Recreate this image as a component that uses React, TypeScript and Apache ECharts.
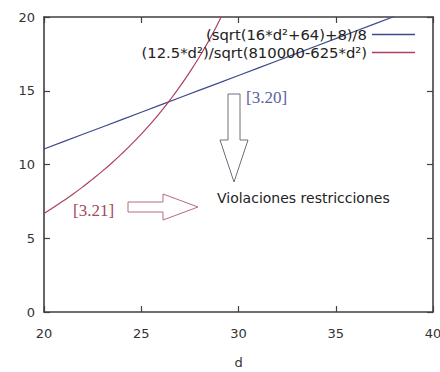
import React, { useEffect, useRef } from "react";
import * as echarts from "echarts";

const name1 = "(sqrt(16*d²+64)+8)/8";
const name2 = "(12.5*d²)/sqrt(810000-625*d²)";

const d1 = [20, 21, 22, 23, 24, 25, 26, 27, 28, 29, 30, 31, 32, 33, 34, 35, 36, 37, 38];
const y1 = [11.05, 11.55, 12.05, 12.54, 13.04, 13.54, 14.04, 14.54, 15.04, 15.53, 16.03, 16.53, 17.03, 17.53, 18.03, 18.53, 19.03, 19.53, 20.03];

const d2 = [20, 20.5, 21, 21.5, 22, 22.5, 23, 23.5, 24, 24.5, 25, 25.5, 26, 26.5, 27, 27.5, 28, 28.25, 28.5, 28.75, 29, 29.12];
const y2 = [6.68, 7.1, 7.54, 8.0, 8.49, 9.01, 9.55, 10.12, 10.73, 11.38, 12.06, 12.79, 13.57, 14.41, 15.31, 16.28, 17.32, 17.88, 18.46, 19.07, 19.71, 20.03];

const xMin = 20;
const xMax = 40;
const yMin = 0;
const yMax = 20;
const tickStep = 5;

const annot320 = "[3.20]";
const annot321 = "[3.21]";
const annotText = "Violaciones restricciones";

export default function App() {
  const ref = useRef<HTMLDivElement>(null);
  useEffect(() => {
    const chart = echarts.init(ref.current!, null, { renderer: "svg" });
    const labelStyle = { color: "#333", fontSize: 13, fontFamily: "DejaVu Sans" };
    const blue = "#3e4a8c";
    const red = "#ad405a";
    chart.setOption({
      animation: false,
      backgroundColor: "#fff",
      grid: { left: 44, right: 7, top: 17, bottom: 60, containLabel: false, outerBoundsMode: "none" },
      xAxis: [
        {
          type: "value", min: xMin, max: xMax, interval: tickStep, position: "bottom",
          axisLine: { show: true, onZero: false, lineStyle: { color: "#404040", width: 1.6 } },
          axisTick: { show: true, inside: true, length: 6, lineStyle: { color: "#404040", width: 1.2 } },
          splitLine: { show: false },
          axisLabel: { ...labelStyle, margin: 15 },
          name: "d", nameLocation: "middle", nameGap: 44,
          nameTextStyle: { ...labelStyle },
        },
        {
          type: "value", min: xMin, max: xMax, interval: tickStep, position: "top",
          axisLine: { show: true, onZero: false, lineStyle: { color: "#404040", width: 1.6 } },
          axisTick: { show: true, inside: true, length: 6, lineStyle: { color: "#404040", width: 1.2 } },
          splitLine: { show: false }, axisLabel: { show: false },
        },
      ],
      yAxis: [
        {
          type: "value", min: yMin, max: yMax, interval: tickStep, position: "left",
          axisLine: { show: true, onZero: false, lineStyle: { color: "#404040", width: 1.6 } },
          axisTick: { show: true, inside: true, length: 6, lineStyle: { color: "#404040", width: 1.2 } },
          splitLine: { show: false },
          axisLabel: { ...labelStyle, margin: 9 },
        },
        {
          type: "value", min: yMin, max: yMax, interval: tickStep, position: "right",
          axisLine: { show: true, onZero: false, lineStyle: { color: "#404040", width: 1.6 } },
          axisTick: { show: true, inside: true, length: 6, lineStyle: { color: "#404040", width: 1.2 } },
          splitLine: { show: false }, axisLabel: { show: false },
        },
      ],
      legend: [
        {
          data: [name1], right: 25, top: 27, padding: 0, icon: "rect", itemWidth: 43, itemHeight: 1.3,
          align: "right", orient: "vertical", selectedMode: false,
          textStyle: { fontSize: 14.8, fontFamily: "DejaVu Sans", color: "#222" },
        },
        {
          data: [name2], right: 25, top: 45, padding: 0, icon: "rect", itemWidth: 43, itemHeight: 1.3,
          align: "right", orient: "vertical", selectedMode: false,
          textStyle: { fontSize: 14.8, fontFamily: "DejaVu Sans", color: "#222" },
        },
      ],
      series: [
        {
          name: name1, type: "line", xAxisIndex: 0, yAxisIndex: 0,
          data: d1.map((d, i) => [d, y1[i]]),
          symbol: "none", showSymbol: false, smooth: false,
          lineStyle: { color: blue, width: 1.2 }, itemStyle: { color: blue },
        },
        {
          name: name2, type: "line", xAxisIndex: 0, yAxisIndex: 0,
          data: d2.map((d, i) => [d, y2[i]]),
          symbol: "none", showSymbol: false, smooth: true,
          lineStyle: { color: red, width: 1.2 }, itemStyle: { color: red },
        },
      ],
      graphic: [
        {
          type: "polygon",
          shape: { points: [[228, 94], [240, 94], [240, 140], [248, 140], [234, 182], [220, 140], [228, 140]] },
          style: { fill: "#fff", stroke: "#6e6e78", lineWidth: 1 },
        },
        {
          type: "polygon",
          shape: { points: [[128, 202], [163, 202], [163, 194], [198, 207], [163, 220], [163, 212], [128, 212]] },
          style: { fill: "#fff", stroke: "#b86a7a", lineWidth: 1 },
        },
        {
          type: "text", x: 246, y: 97,
          style: { text: annot320, fontSize: 17, fontFamily: "Liberation Serif", fill: "#58649c", verticalAlign: "middle" },
        },
        {
          type: "text", x: 73, y: 210,
          style: { text: annot321, fontSize: 17, fontFamily: "Liberation Serif", fill: "#a04a5c", verticalAlign: "middle" },
        },
        {
          type: "text", x: 217, y: 198,
          style: { text: annotText, fontSize: 14, fontFamily: "DejaVu Sans", fill: "#222", verticalAlign: "middle" },
        },
      ],
    });
    return () => chart.dispose();
  }, []);
  return (
    <div
      ref={ref}
      style={{ position: "fixed", left: 0, top: 0, width: 440, height: 372, background: "#fff" }}
    />
  );
}
